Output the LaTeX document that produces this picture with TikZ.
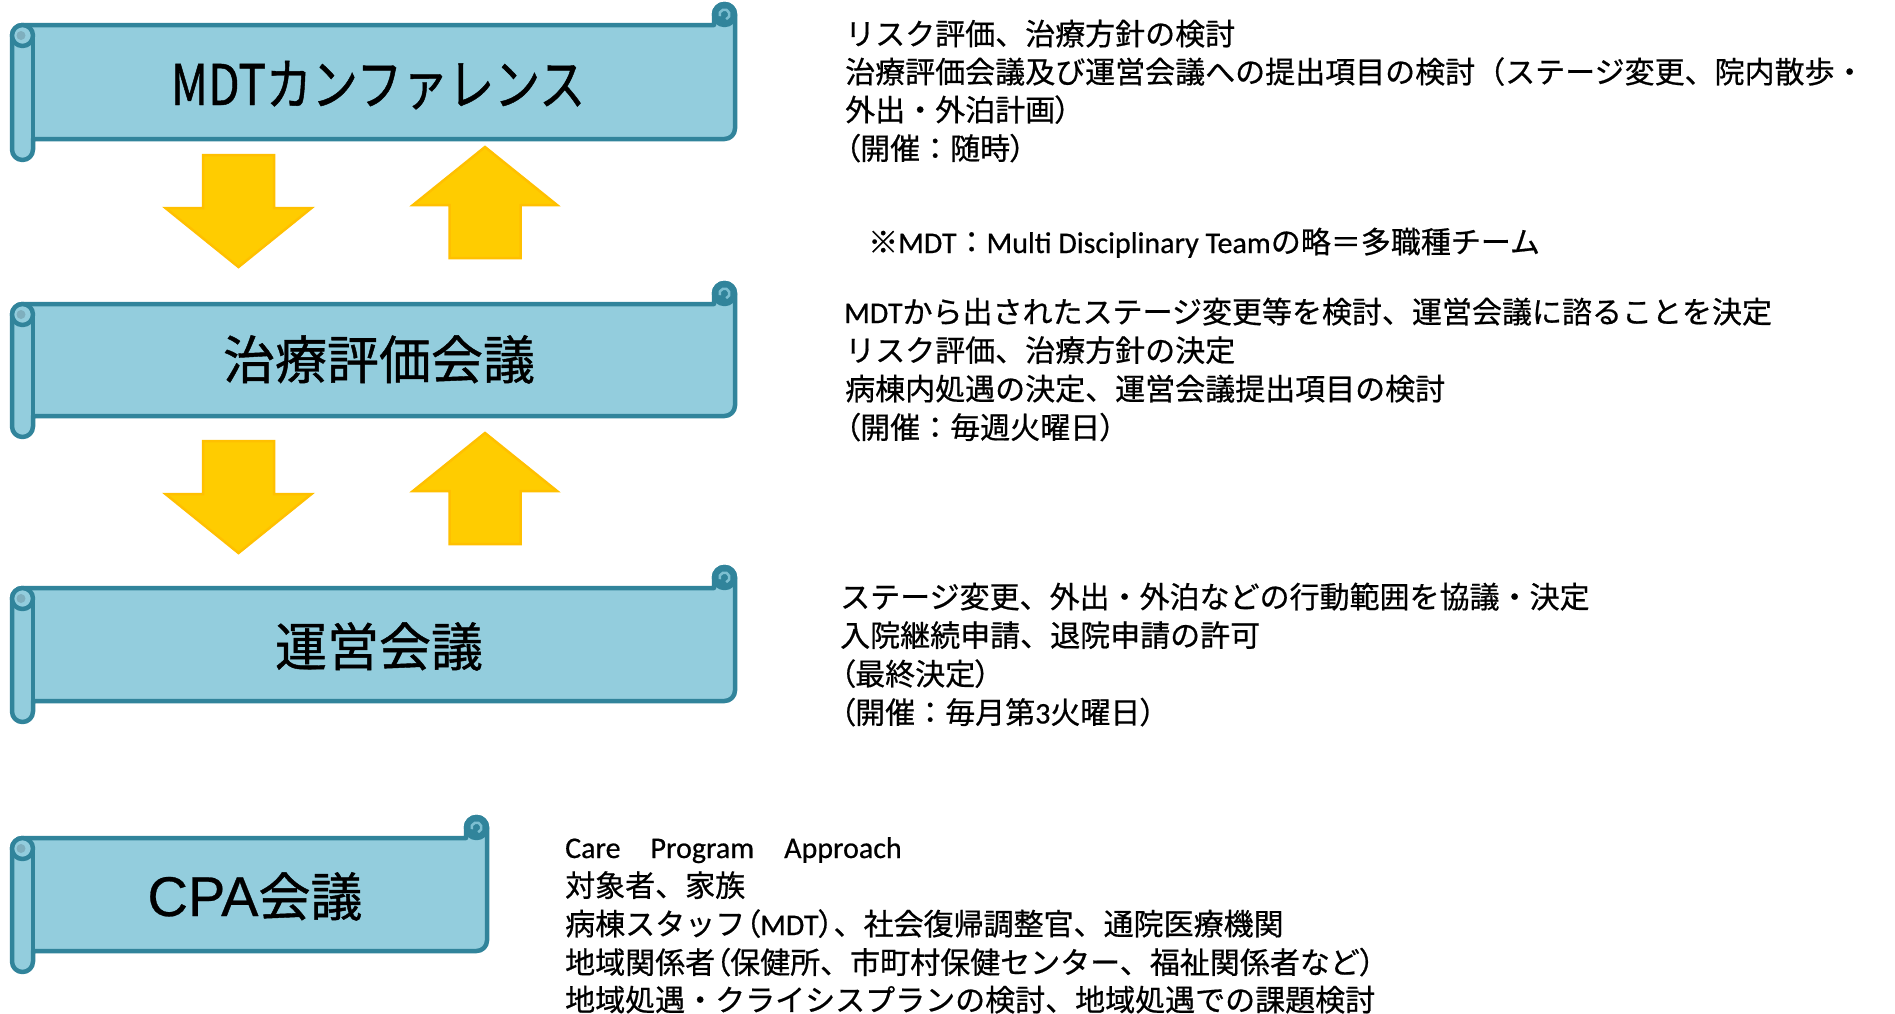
\documentclass[tikz,border=0pt]{standalone}
\usepackage{fontspec}
\newfontfamily\jp[FakeBold=0.6]{Noto Sans CJK JP}
\newfontfamily\jpt[FakeBold=0.8]{Noto Sans CJK JP}
\newfontfamily\jpn[FakeBold=0.8,FakeStretch=0.82]{Noto Sans CJK JP}
\newfontfamily\jpp[RawFeature=+palt,FakeBold=0.6]{Noto Sans CJK JP}
\newfontfamily\latn[FakeBold=0.6]{Carlito}
\newfontfamily\arl[FakeBold=0.5]{Liberation Sans}
\definecolor{scrollfill}{HTML}{93CDDD}
\definecolor{scrollline}{HTML}{31849B}
\definecolor{curlin}{HTML}{7FAFBE}
\definecolor{curllight}{HTML}{7DBFD1}
\definecolor{arrfill}{HTML}{FFCC00}
\definecolor{arrline}{HTML}{FFC000}
\newcommand\la[1]{{\latn #1}}
\newcommand\pa[1]{{\jpp #1}}
\tikzset{
  scrollbody/.style={fill=scrollfill, draw=scrollline, line width=4.5pt, line join=round},
  scrolledge/.style={draw=scrollline, line width=4.5pt},
  blockarrow/.style={fill=arrfill, draw=arrline, line width=2.5pt, line join=miter},
  titletext/.style={inner sep=0pt, anchor=base, font=\jpt\fontsize{52}{60}\selectfont},
  desc/.style={inner sep=0pt, anchor=base west, font=\jp\fontsize{30}{38}\selectfont},
}
% #1 left, #2 right, #3 top, #4 bottom (pixel units, y downward)
\newcommand\drawscroll[4]{%
  \draw[scrollbody] (#1,{-(#3+31.5)}) arc[start angle=180,end angle=90,radius=10.5]
    -- ({#2-21},{-(#3+21)}) -- ({#2-21},{-(#3+10.5)}) arc[start angle=180,end angle=0,radius=10.5]
    -- (#2,{-(#4-31.5)}) arc[start angle=0,end angle=-90,radius=10.5]
    -- ({#1+21},{-(#4-21)}) -- ({#1+21},{-(#4-10.5)}) arc[start angle=0,end angle=-180,radius=10.5]
    -- cycle;
  \draw[scrolledge] ({#1+21},{-(#3+31.5)}) -- ({#1+21},{-(#4-21)});
  \draw[scrollbody] ({#1+10.5},{-(#3+31.5)}) circle[radius=10.5];
  \fill[curlin] ({#1+9},{-(#3+31.5)}) circle[radius=4.5];
  \draw[scrollbody, fill=scrollline] ({#2-10.5},{-(#3+10.5)}) circle[radius=10.5];
  \draw[curllight, line width=2.5pt] ({#2-10.5},{-(#3+10.5)}) ++(200:5) arc[start angle=200,end angle=-70,radius=5];
}
% down arrow: #1 centre x, #2 top y
\newcommand\downblock[2]{%
  \draw[blockarrow] ({#1-35.5},{-#2}) -- ({#1+35.5},{-#2}) -- ({#1+35.5},{-(#2+53)})
    -- ({#1+73},{-(#2+53)}) -- (#1,{-(#2+112)}) -- ({#1-73},{-(#2+53)})
    -- ({#1-35.5},{-(#2+53)}) -- cycle;}
% up arrow: #1 centre x, #2 tip y
\newcommand\upblock[2]{%
  \draw[blockarrow] (#1,{-#2}) -- ({#1+72},{-(#2+58)}) -- ({#1+35.5},{-(#2+58)})
    -- ({#1+35.5},{-(#2+111)}) -- ({#1-35.5},{-(#2+111)}) -- ({#1-35.5},{-(#2+58)})
    -- ({#1-72},{-(#2+58)}) -- cycle;}
\begin{document}
\begin{tikzpicture}[x=1pt,y=1pt]
\useasboundingbox (0,0) rectangle (1895,-1013);
\fill[white] (0,0) rectangle (1895,-1013);

% scrolls
\drawscroll{12}{735}{4}{160}
\drawscroll{12}{735}{283}{437}
\drawscroll{12}{735}{567}{722}
\drawscroll{12}{487}{817}{972}

\node[titletext, font=\jpn\fontsize{56}{64}\selectfont] (s1) at (378,-105) {MDTカンファレンス};
\node[titletext] (s2) at (379,-379) {治療評価会議};
\node[titletext] (s3) at (379,-666) {運営会議};
\node[titletext] (s4) at (255,-916) {{\arl\fontsize{56}{64}\selectfont CPA}会議};

% block arrows
\downblock{238.5}{155}
\upblock{485}{147}
\downblock{238.5}{441}
\upblock{485}{433}

% descriptions
\node[desc] (d1a) at (845,-45) {リスク評価、治療方針の検討};
\node[desc] (d1b) at (845,-83) {治療評価会議及び運営会議への提出項目の検討（ステージ変更、院内散歩・};
\node[desc] (d1c) at (845,-121) {外出・外泊計画\pa{）}};
\node[desc] (d1d) at (845,-159.5) {\pa{（}開催：随時\pa{）}};
\node[desc] (note) at (868,-253) {※\la{MDT}：\la{Multi Disciplinary Team}の略＝多職種チーム};

\node[desc] (d2a) at (844,-323) {\la{MDT}から出されたステージ変更等を検討、運営会議に諮ることを決定};
\node[desc] (d2b) at (845,-361.5) {リスク評価、治療方針の決定};
\node[desc] (d2c) at (845,-400) {病棟内処遇の決定、運営会議提出項目の検討};
\node[desc] (d2d) at (845,-438.5) {\pa{（}開催：毎週火曜日\pa{）}};

\node[desc] (d3a) at (840,-608) {ステージ変更、外出・外泊などの行動範囲を協議・決定};
\node[desc] (d3b) at (840,-646.5) {入院継続申請、退院申請の許可};
\node[desc] (d3c) at (840,-685) {\pa{（}最終決定\pa{）}};
\node[desc] (d3d) at (840,-723.5) {\pa{（}開催：毎月第\la{3}火曜日\pa{）}};

\node[desc] (d4a) at (565,-858) {\la{Care\hspace{30pt}Program\hspace{30pt}Approach}};
\node[desc] (d4b) at (565,-896.5) {対象者、家族};
\node[desc] (d4c) at (565,-935) {病棟スタッフ\pa{（}\la{MDT}\pa{）}、社会復帰調整官、通院医療機関};
\node[desc] (d4d) at (565,-973.5) {地域関係者\pa{（}保健所、市町村保健センター、福祉関係者など\pa{）}};
\node[desc] (d4e) at (565,-1011) {地域処遇・クライシスプランの検討、地域処遇での課題検討};
\end{tikzpicture}
\end{document}
